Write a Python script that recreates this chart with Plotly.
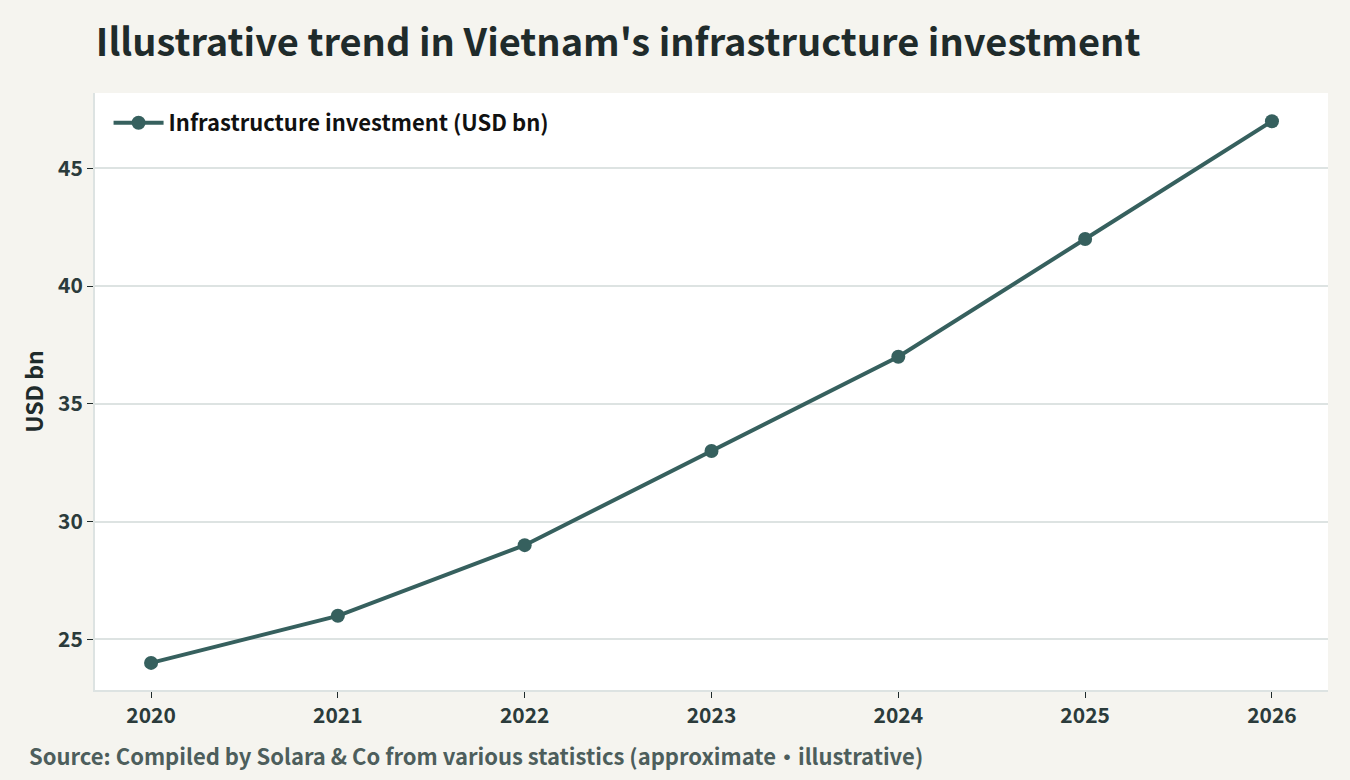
import plotly.graph_objects as go

years = [2020, 2021, 2022, 2023, 2024, 2025, 2026]
investment = [24, 26, 29, 33, 37, 42, 47]
y_ticks = [25, 30, 35, 40, 45]

FONT = "Noto Sans CJK JP"
LINE = "#36605e"
DARK = "#1f2b2b"

fig = go.Figure()
fig.add_trace(go.Scatter(
    x=years, y=investment,
    mode="lines+markers",
    name="Infrastructure investment (USD bn)",
    line=dict(color=LINE, width=4),
    marker=dict(color=LINE, size=14),
))

fig.update_layout(
    width=1350, height=780,
    paper_bgcolor="#f5f4ef",
    plot_bgcolor="#ffffff",
    font=dict(family=FONT, color=DARK, size=20),
    margin=dict(l=95, r=22, t=93, b=90),
    title=dict(
        text="<b>Illustrative trend in Vietnam's infrastructure investment</b>",
        x=0.071, xanchor="left", y=0.945, yanchor="middle",
        font=dict(family=FONT, size=38, color=DARK),
    ),
    legend=dict(
        x=0.011, y=0.985, xanchor="left", yanchor="top",
        bgcolor="rgba(255,255,255,0)",
        itemwidth=50,
        font=dict(family=FONT, size=22, color="#111111", weight="bold"),
    ),
    showlegend=True,
)

fig.update_xaxes(
    range=[2019.7, 2026.3],
    tickvals=years,
    ticktext=[f"<b>{y}</b>" for y in years],
    showgrid=False,
    showline=True, linecolor="#dde3e2", linewidth=2,
    ticks="outside", ticklen=6, tickcolor=DARK, tickwidth=1,
    tickfont=dict(size=21, color="#2b3b3b"),
    zeroline=False,
)
fig.update_yaxes(
    range=[22.85, 48.2],
    tickvals=y_ticks,
    ticktext=[f"<b>{v}</b>" for v in y_ticks],
    showgrid=True, gridcolor="#dde3e2", gridwidth=1.5,
    showline=True, linecolor="#dde3e2", linewidth=2,
    ticks="outside", ticklen=6, tickcolor=DARK, tickwidth=1,
    tickfont=dict(size=21, color="#2b3b3b"),
    title=dict(text="<b>USD bn</b>", font=dict(size=23, color=DARK), standoff=8),
    zeroline=False,
)

fig.add_annotation(
    text="<b>Source: Compiled by Solara & Co from various statistics (approximate・illustrative)</b>",
    xref="paper", yref="paper", x=-0.0555, y=-0.109,
    xanchor="left", yanchor="middle", showarrow=False,
    font=dict(family=FONT, size=22, color="#4d5e5c"),
)

fig.write_html("out.html", config={"displayModeBar": False},
               post_script="document.body.style.margin='0';")
